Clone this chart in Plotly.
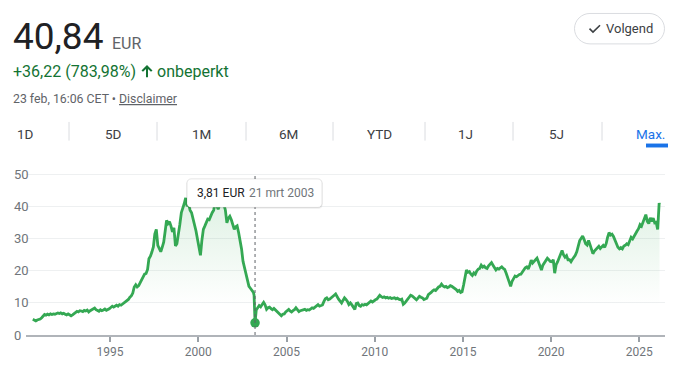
import plotly.graph_objects as go

# ---------------- data ----------------
# monthly closing estimates (EUR), mid-month
v1990 = [4.9, 4.6, 4.4, 4.7, 4.8]                      # Aug..Dec
v1991 = [5.0, 5.4, 5.9, 6.4, 6.2, 6.5, 6.3, 6.6, 6.4, 6.6, 6.5, 6.7]
v1992 = [6.9, 6.7, 6.9, 6.6, 6.8, 6.5, 6.3, 6.6, 6.2, 6.0, 6.3, 6.6]
v1993 = [7.1, 7.4, 7.2, 7.6, 7.5, 7.3, 7.7, 7.5, 7.8, 7.2, 7.6, 7.9]
v1994 = [8.1, 8.4, 7.9, 7.6, 7.4, 7.9, 7.6, 7.8, 8.1, 7.7, 7.9, 8.2]
v1995 = [8.6, 9.0, 8.7, 9.1, 9.3, 9.0, 9.5, 9.3, 9.7, 9.9, 10.4, 10.6]
v1996 = [11.1, 11.8, 12.2, 13.1, 15.0, 15.7, 15.0, 15.4, 16.4, 17.5, 18.3, 19.0]
v1997 = [19.2, 20.5, 23.8, 24.6, 25.9, 27.5, 31.5, 33.0, 28.0, 27.2, 26.0, 27.4]
v1998 = [29.0, 32.5, 35.8, 34.8, 35.4, 34.0, 32.2, 33.5, 27.8, 28.5, 31.0, 34.5]
v1999 = [38.2, 39.5, 41.0, 42.8, 40.2, 41.0, 39.0, 38.2, 36.5, 34.0, 32.5, 30.0]
v2000 = [27.0, 24.9, 29.5, 33.0, 34.0, 35.0, 36.2, 36.0, 37.5, 38.2, 39.0, 41.3]
v2001 = [40.5, 39.3, 40.5, 41.8, 40.2, 40.8, 39.0, 35.0, 36.5, 37.1, 36.0, 34.5]
v2002 = [33.0, 33.8, 34.1, 32.0, 30.0, 26.9, 23.0, 20.8, 18.5, 16.7, 15.2, 14.6]
v2003 = [14.0, 13.3, 12.4, 7.8, 8.6, 9.2, 8.8, 9.6, 10.2, 9.4, 8.0, 8.5]
v2004 = [8.7, 8.2, 7.9, 8.3, 7.8, 7.4, 6.8, 6.2, 6.0, 6.5, 6.6, 7.2]
v2005 = [7.6, 8.0, 7.5, 7.2, 7.6, 7.9, 8.5, 7.9, 7.3, 7.6, 7.8, 8.0]
v2006 = [8.0, 7.7, 7.9, 7.8, 8.2, 8.5, 8.3, 8.7, 9.3, 9.5, 9.0, 9.2]
v2007 = [9.4, 10.5, 11.3, 11.6, 11.0, 11.2, 11.5, 12.0, 12.4, 12.8, 11.8, 11.2]
v2008 = [10.6, 10.0, 10.8, 11.6, 11.1, 10.5, 9.5, 10.0, 9.4, 8.5, 8.0, 9.8]
v2009 = [10.0, 9.2, 9.0, 9.5, 9.3, 9.6, 9.4, 9.8, 10.2, 10.6, 10.3, 10.8]
v2010 = [11.0, 11.2, 11.8, 12.4, 12.0, 11.7, 11.9, 11.6, 11.8, 11.5, 11.7, 11.4]
v2011 = [11.5, 11.6, 11.3, 11.5, 11.2, 11.0, 11.2, 9.6, 10.0, 10.8, 11.2, 11.8]
v2012 = [12.4, 12.2, 11.8, 11.2, 11.0, 11.5, 12.1, 11.8, 11.6, 11.1, 11.4, 11.5]
v2013 = [12.6, 12.9, 13.3, 13.8, 14.1, 13.9, 14.5, 15.0, 15.2, 15.9, 15.3, 15.0]
v2014 = [15.2, 14.8, 15.0, 15.4, 15.2, 14.9, 14.5, 14.2, 13.6, 13.9, 13.3, 13.5]
v2015 = [15.6, 18.0, 20.3, 19.6, 19.8, 19.0, 18.6, 19.4, 19.0, 20.0, 20.6, 20.8]
v2016 = [21.8, 21.2, 21.5, 21.0, 20.8, 21.6, 22.0, 22.6, 21.8, 21.2, 20.3, 20.8]
v2017 = [20.6, 21.0, 21.3, 20.8, 20.5, 19.3, 18.2, 16.6, 15.2, 16.8, 17.6, 18.4]
v2018 = [18.2, 18.6, 18.9, 19.0, 19.8, 20.5, 21.0, 21.3, 20.6, 21.8, 23.4, 22.5]
v2019 = [23.0, 23.6, 24.0, 22.8, 21.5, 20.3, 21.8, 22.5, 23.2, 24.0, 23.5, 23.0]
v2020 = [22.9, 23.5, 19.3, 22.0, 22.9, 24.0, 25.2, 26.4, 25.0, 24.3, 24.8, 23.5]
v2021 = [23.5, 22.9, 23.6, 24.2, 24.9, 26.0, 27.5, 29.5, 30.2, 30.9, 29.8, 28.5]
v2022 = [28.1, 29.5, 28.3, 27.0, 25.4, 26.2, 26.8, 27.2, 27.7, 27.0, 27.4, 28.0]
v2023 = [27.4, 28.6, 30.5, 32.0, 31.2, 31.5, 30.8, 29.5, 28.3, 27.4, 26.9, 27.3]
v2024 = [26.9, 27.8, 28.0, 28.5, 28.2, 29.2, 30.5, 30.0, 31.0, 31.8, 32.5, 33.2]
v2025 = [34.5, 34.0, 35.2, 36.5, 37.6, 35.5, 34.8, 36.6, 35.5, 36.5, 35.0, 35.2]
v2026 = [33.0, 41.2]                                   # Jan..Feb

low_date, low_value = "2003-03-21", 3.81
last_date, last_value = "2026-02-23", 40.84

year_lists = [
    (1990, 8, v1990), (1991, 1, v1991), (1992, 1, v1992), (1993, 1, v1993),
    (1994, 1, v1994), (1995, 1, v1995), (1996, 1, v1996), (1997, 1, v1997),
    (1998, 1, v1998), (1999, 1, v1999), (2000, 1, v2000), (2001, 1, v2001),
    (2002, 1, v2002), (2003, 1, v2003), (2004, 1, v2004), (2005, 1, v2005),
    (2006, 1, v2006), (2007, 1, v2007), (2008, 1, v2008), (2009, 1, v2009),
    (2010, 1, v2010), (2011, 1, v2011), (2012, 1, v2012), (2013, 1, v2013),
    (2014, 1, v2014), (2015, 1, v2015), (2016, 1, v2016), (2017, 1, v2017),
    (2018, 1, v2018), (2019, 1, v2019), (2020, 1, v2020), (2021, 1, v2021),
    (2022, 1, v2022), (2023, 1, v2023), (2024, 1, v2024), (2025, 1, v2025),
    (2026, 1, v2026),
]

pairs = []
for yr, m0, vals in year_lists:
    for i, v in enumerate(vals):
        day = "01" if (yr == 2003 and m0 + i == 3) else "15"
        pairs.append((f"{yr}-{m0 + i:02d}-{day}", v))
pairs.append((low_date, low_value))
pairs.append((last_date, last_value))
pairs.sort(key=lambda p: p[0])
dates = [p[0] for p in pairs]
values = [p[1] for p in pairs]

y_ticks = [0, 10, 20, 30, 40, 50]
tab_labels = ["1D", "5D", "1M", "6M", "YTD", "1J", "5J", "Max."]

price_text = "40,84"
currency_text = "EUR"
change_text = "+36,22 (783,98%)"
period_text = "onbeperkt"
stamp_text = "23 feb, 16:06 CET • <u>Disclaimer</u>"
tip_value_text = "3,81 EUR"
tip_date_text = "21 mrt 2003"

# ---------------- layout helpers (all coordinates in page pixels) ----------------
OFF = 8                      # the page body margin
PAGE_W, PAGE_H = 676, 370
W, H = PAGE_W - OFF, PAGE_H - OFF
L, R, T, B = 26, 665, 173, 338   # plot area in page pixels
GREEN = "#34a853"
FONT = "Roboto, Arial, sans-serif"


def px(x):
    return (x - L) / (R - L)


def py(y):
    return (B - y) / (B - T)


def path(points, close=True):
    s = "M " + " L ".join(f"{px(x):.5f},{py(y):.5f}" for x, y in points)
    return s + (" Z" if close else "")


def rounded_rect(x0, y0, x1, y1, r):
    k = 0.55 * r
    segs = [
        ("M", [(x0 + r, y0)]),
        ("L", [(x1 - r, y0)]),
        ("C", [(x1 - r + k, y0), (x1, y0 + r - k), (x1, y0 + r)]),
        ("L", [(x1, y1 - r)]),
        ("C", [(x1, y1 - r + k), (x1 - r + k, y1), (x1 - r, y1)]),
        ("L", [(x0 + r, y1)]),
        ("C", [(x0 + r - k, y1), (x0, y1 - r + k), (x0, y1 - r)]),
        ("L", [(x0, y0 + r)]),
        ("C", [(x0, y0 + r - k), (x0 + r - k, y0), (x0 + r, y0)]),
    ]
    out = []
    for cmd, ps in segs:
        out.append(cmd + " " + " ".join(f"{px(x):.5f},{py(y):.5f}" for x, y in ps))
    return " ".join(out) + " Z"


fig = go.Figure()
fig.add_trace(go.Scatter(
    x=dates, y=values, mode="lines",
    line=dict(color=GREEN, width=2.8),
    fill="tozeroy",
    fillgradient=dict(type="vertical",
                      colorscale=[[0, "rgba(52,168,83,0)"], [1, "rgba(52,168,83,0.17)"]],
                      start=10, stop=45),
    hoverinfo="skip", showlegend=False,
))
fig.add_trace(go.Scatter(
    x=[low_date], y=[low_value], mode="markers",
    marker=dict(size=9.5, color=GREEN), hoverinfo="skip", showlegend=False,
))

shapes = []
annotations = []

# crosshair
shapes.append(dict(type="line", xref="x", yref="paper", x0=low_date, x1=low_date,
                   y0=0, y1=1, line=dict(color="#5f6368", width=1, dash="dot"), layer="above"))
# tooltip
shapes.append(dict(type="path", xref="paper", yref="paper",
                   path=rounded_rect(186.5, 179.5, 322.5, 209.5, 4),
                   fillcolor="rgba(0,0,0,0.07)", line=dict(width=0), layer="above"))
shapes.append(dict(type="path", xref="paper", yref="paper",
                   path=rounded_rect(187, 179, 322, 208, 4),
                   fillcolor="white", line=dict(color="rgba(0,0,0,0.10)", width=1), layer="above"))
annotations.append(dict(xref="paper", yref="paper", x=px(195), y=py(193.5), xanchor="left",
                        yanchor="middle", text=tip_value_text, showarrow=False,
                        font=dict(size=12, color="#202124", family=FONT)))
annotations.append(dict(xref="paper", yref="paper", x=px(247), y=py(193.5), xanchor="left",
                        yanchor="middle", text=tip_date_text, showarrow=False,
                        font=dict(size=12, color="#70757a", family=FONT)))

# y tick labels (left aligned)
for v in y_ticks:
    annotations.append(dict(xref="paper", yref="y", x=px(12), y=v, xanchor="left",
                            yanchor="middle", text=str(v), showarrow=False,
                            font=dict(size=13, color="#70757a", family=FONT)))

# header
annotations.append(dict(xref="paper", yref="paper", x=px(11), y=py(34), xanchor="left",
                        yanchor="middle", text=price_text, showarrow=False,
                        font=dict(size=37, color="#202124", family=FONT)))
annotations.append(dict(xref="paper", yref="paper", x=px(110), y=py(41), xanchor="left",
                        yanchor="middle", text=currency_text, showarrow=False,
                        font=dict(size=16, color="#5f6368", family=FONT)))
annotations.append(dict(xref="paper", yref="paper", x=px(11), y=py(70), xanchor="left",
                        yanchor="middle", text=change_text, showarrow=False,
                        font=dict(size=16, color="#137333", family=FONT)))
annotations.append(dict(xref="paper", yref="paper", x=px(155), y=py(70), xanchor="left",
                        yanchor="middle", text=period_text, showarrow=False,
                        font=dict(size=16, color="#137333", family=FONT)))
# arrow icon
shapes.append(dict(type="path", xref="paper", yref="paper",
                   path=path([(147, 63), (152.5, 68.5), (151, 70), (148, 67), (148, 75.5),
                              (146, 75.5), (146, 67), (143, 70), (141.5, 68.5)]),
                   fillcolor="#137333", line=dict(width=0)))
annotations.append(dict(xref="paper", yref="paper", x=px(11), y=py(98), xanchor="left",
                        yanchor="middle", text=stamp_text, showarrow=False,
                        font=dict(size=12.3, color="#5f6368", family=FONT)))

# follow button
shapes.append(dict(type="path", xref="paper", yref="paper",
                   path=rounded_rect(574.5, 10.5, 664.5, 41.5, 15.5),
                   fillcolor="white", line=dict(color="#dadce0", width=1)))
shapes.append(dict(type="path", xref="paper", yref="paper",
                   path=path([(589.5, 26), (593, 29.5), (600, 22.5)], close=False),
                   line=dict(color="#3c4043", width=1.6)))
annotations.append(dict(xref="paper", yref="paper", x=px(604), y=py(26), xanchor="left",
                        yanchor="middle", text="Volgend", showarrow=False,
                        font=dict(size=13, color="#3c4043", family=FONT)))

# tabs
tab_x = [25, 113, 201, 288.5, 379, 466, 556, 650]
sep_x = [69, 157, 246, 333, 425, 513, 602]
for lab, x in zip(tab_labels, tab_x):
    col = "#1a73e8" if lab == "Max." else "#3c4043"
    annotations.append(dict(xref="paper", yref="paper", x=px(x), y=py(133), xanchor="center",
                            yanchor="middle", text=lab, showarrow=False,
                            font=dict(size=13.5, color=col, family=FONT)))
for x in sep_x:
    shapes.append(dict(type="line", xref="paper", yref="paper", x0=px(x), x1=px(x),
                       y0=py(121), y1=py(140), line=dict(color="#dadce0", width=1)))
shapes.append(dict(type="rect", xref="paper", yref="paper", x0=px(646), x1=px(676),
                   y0=py(143), y1=py(147), fillcolor="#1a73e8", line=dict(width=0)))

fig.update_layout(
    width=W, height=H,
    margin=dict(l=L - OFF, r=PAGE_W - R, t=T - OFF, b=PAGE_H - B, pad=0),
    paper_bgcolor="white", plot_bgcolor="white",
    font=dict(family=FONT, color="#70757a"),
    showlegend=False,
    shapes=shapes, annotations=annotations,
    xaxis=dict(
        type="date", range=["1990-03-27", "2026-06-16"],
        tick0="1995-01-01", dtick="M60", tickformat="%Y",
        ticks="outside", ticklen=5, tickwidth=1.5, tickcolor="#9aa0a6",
        showline=True, linecolor="#b0b4b9", linewidth=2,
        showgrid=False, zeroline=False,
        tickfont=dict(size=12, color="#70757a", family=FONT),
        fixedrange=True,
    ),
    yaxis=dict(
        range=[0, 50.6], tickvals=y_ticks, showticklabels=False,
        showgrid=True, gridcolor="#eef0f1", gridwidth=1,
        zeroline=False, showline=False, ticks="", fixedrange=True,
    ),
)

fig.write_html("out.html", config={"displayModeBar": False})
